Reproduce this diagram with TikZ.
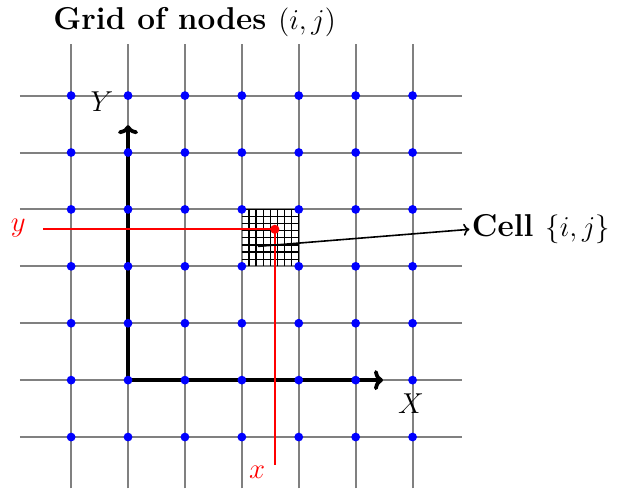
\documentclass[tikz,border=0pt]{standalone}
\usetikzlibrary{arrows.meta}
\begin{document}
\begin{tikzpicture}[x=1cm,y=1cm,
  gridline/.style={draw=gray,line width=1pt},
  fineline/.style={draw=black,line width=0.6pt},
  axis/.style={draw=black,line width=1.9pt,-{To[length=4.5pt,width=10pt,line width=1.9pt]}},
  redline/.style={draw=red,line width=1pt},
  bluedot/.style={circle,fill=blue,inner sep=0pt,minimum size=4.4pt},
  reddot/.style={circle,fill=red,inner sep=0pt,minimum size=4.6pt},
  mathlabel/.style={font=\fontsize{15.5}{18}\selectfont},
  boldlabel/.style={font=\fontsize{15.8}{19}\selectfont\bfseries}]
\useasboundingbox (-2.25,-1.93) rectangle (8.61,6.68);
% grid lines
\foreach \i in {-1,...,5} {
  \draw[gridline] (\i,-1.9) -- (\i,5.9);
  \draw[gridline] (-1.9,\i) -- (5.87,\i);
}
% fine cell grid
\draw[fineline,step=0.125] (2,2) grid (3,3);
% axes
\coordinate (O) at (0,0);
\coordinate (Yend) at (0,4.48);
\coordinate (Xend) at (4.48,0);
\draw[axis] (O) -- (Yend);
\draw[axis] (O) -- (Xend);
\node[mathlabel] (Ylab) at (-0.46,4.9) {$Y$};
\node[mathlabel] (Xlab) at (4.97,-0.42) {$X$};
% nodes
\foreach \i in {-1,...,5} \foreach \j in {-1,...,5} {
  \node[bluedot] (n\i\j) at (\i,\j) {};
}
% red point and lines
\coordinate (Pc) at (2.58,2.65);
\coordinate (ystart) at (-1.49,2.65);
\coordinate (xstart) at (2.58,-1.49);
\draw[redline] (ystart) -- (Pc);
\draw[redline] (Pc) -- (xstart);
\node[reddot] (P) at (Pc) {};
\node[mathlabel,text=red] (ylab) at (-1.93,2.67) {$y$};
\node[mathlabel,text=red] (xlab) at (2.27,-1.62) {$x$};
% cell label
\node[boldlabel,anchor=west,inner sep=1pt] (cell) at (6.0,2.65) {Cell $\{i,j\}$};
\coordinate (cellpt) at (2.28,2.35);
\draw[line width=0.8pt,-{To[length=3pt,width=6pt]}] (cellpt) -- (cell.west);
% title
\node[boldlabel] (title) at (1.17,6.3) {Grid of nodes $(i,j)$};
\end{tikzpicture}
\end{document}
